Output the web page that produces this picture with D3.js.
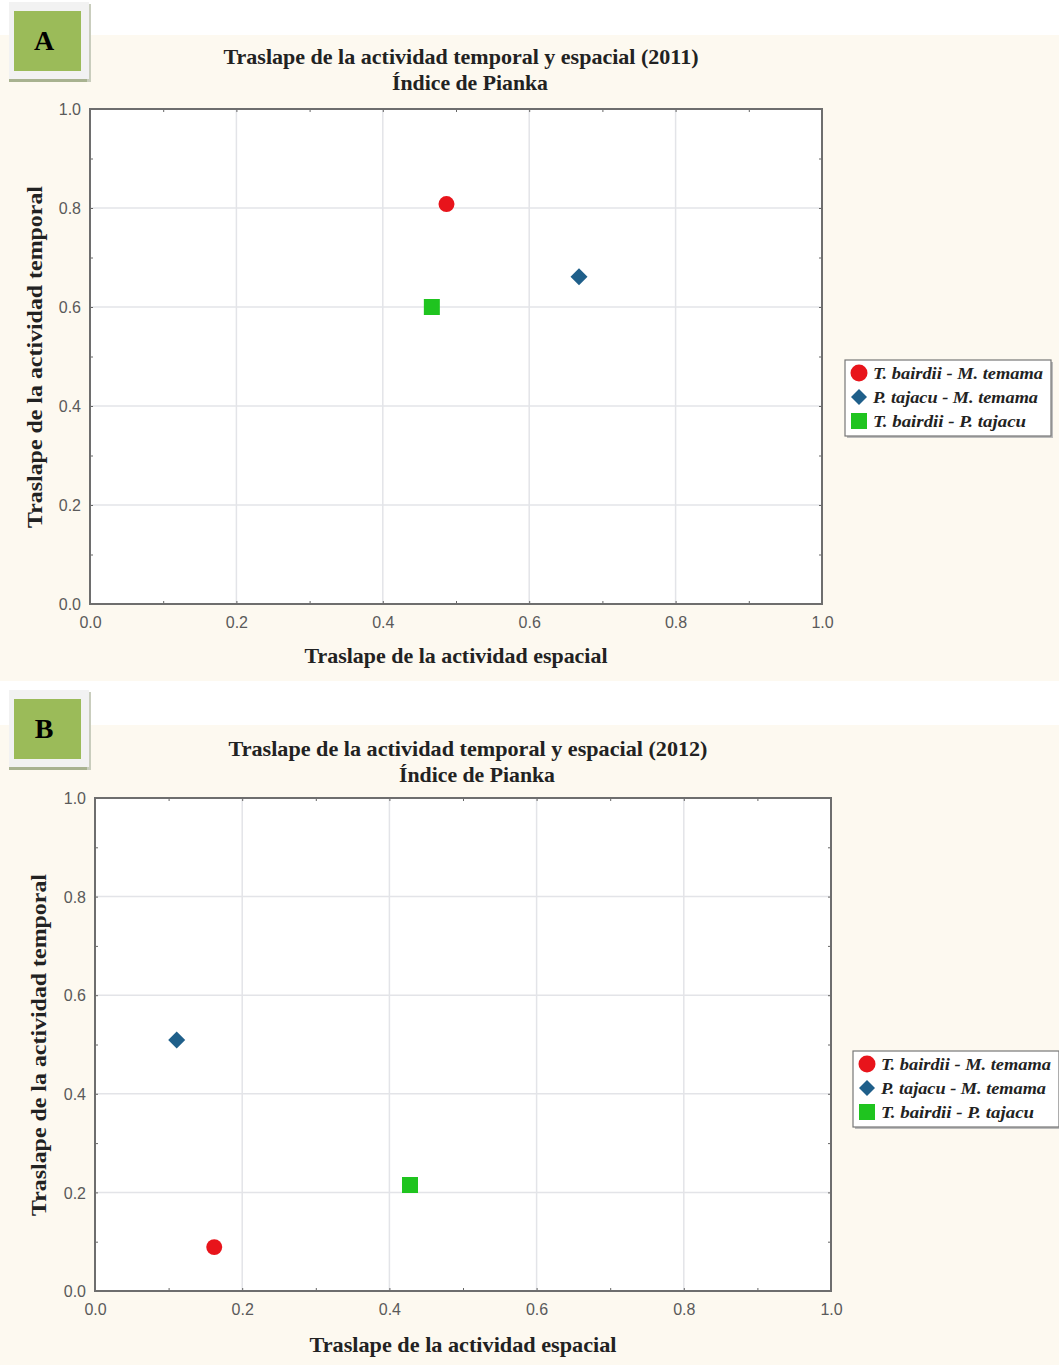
<!DOCTYPE html>
<html>
<head>
<meta charset="utf-8">
<script src="https://cdn.jsdelivr.net/npm/d3@7"></script>
<style>
body { margin:0; background:#fff; }
</style>
</head>
<body>
<script>
// datos: índice de Pianka por par de especies
var pairs = ["T. bairdii - M. temama", "P. tajacu - M. temama", "T. bairdii - P. tajacu"];
var shapes = ["circle", "diamond", "square"];
var colors = ["#e8141b", "#1f5f8a", "#1fc41f"];
var espacial2011 = [0.487, 0.668, 0.467];
var temporal2011 = [0.808, 0.661, 0.600];
var espacial2012 = [0.162, 0.111, 0.428];
var temporal2012 = [0.089, 0.509, 0.215];
var tickValues = [0, 0.2, 0.4, 0.6, 0.8, 1.0];
var legendWidths = [170, 165, 153];

var width = 1059, height = 1365;
var svg = d3.select("body").append("svg")
    .attr("width", width)
    .attr("height", height);

function marker(shape, s) {
    if (shape === "circle") return { d: d3.symbol().type(d3.symbolCircle).size(s * s * 0.785)(), rot: 0 };
    if (shape === "diamond") return { d: d3.symbol().type(d3.symbolSquare).size(s * s * 0.5)(), rot: 45 };
    return { d: d3.symbol().type(d3.symbolSquare).size(s * s)(), rot: 0 };
}
var markerSize = { circle: 16, diamond: 17, square: 16 };
var legendSize = { circle: 17, diamond: 16, square: 16 };

function panel(opts) {
    var g = svg.append("g");

    // fondo crema
    g.append("rect")
        .attr("x", 0).attr("y", opts.bgTop)
        .attr("width", width).attr("height", opts.bgBottom - opts.bgTop)
        .attr("fill", "#fdf9f0");

    // etiqueta A / B
    var lab = g.append("g").attr("transform", "translate(9," + opts.labTop + ")");
    lab.append("rect").attr("x", 0).attr("y", 76).attr("width", 82).attr("height", 4).attr("fill", "#a8b290");
    lab.append("rect").attr("x", 78).attr("y", 2).attr("width", 4).attr("height", 78).attr("fill", "#c9cdbd");
    lab.append("rect").attr("x", 0).attr("y", 0).attr("width", 80).attr("height", 77).attr("fill", "#f2f2f2");
    lab.append("rect").attr("x", 5).attr("y", 9).attr("width", 67).attr("height", 60).attr("fill", "#9bbb59");
    lab.append("text").attr("x", 35).attr("y", 48)
        .attr("text-anchor", "middle")
        .style("font-family", "Liberation Serif")
        .style("font-weight", "bold")
        .style("font-size", "28px")
        .text(opts.letter);

    var x = d3.scaleLinear().domain([0, 1]).range([opts.left, opts.right]);
    var y = d3.scaleLinear().domain([0, 1]).range([opts.bottom, opts.top]);

    g.append("rect")
        .attr("x", opts.left).attr("y", opts.top)
        .attr("width", opts.right - opts.left).attr("height", opts.bottom - opts.top)
        .attr("fill", "#fff");

    // rejilla
    g.selectAll(".gx").data(tickValues.slice(1, -1)).enter().append("line")
        .attr("x1", function(d){ return x(d); }).attr("x2", function(d){ return x(d); })
        .attr("y1", opts.top).attr("y2", opts.bottom)
        .style("stroke", "#e3e4e8").style("stroke-width", 1.5);
    g.selectAll(".gy").data(tickValues.slice(1, -1)).enter().append("line")
        .attr("y1", function(d){ return y(d); }).attr("y2", function(d){ return y(d); })
        .attr("x1", opts.left).attr("x2", opts.right)
        .style("stroke", "#e3e4e8").style("stroke-width", 1.5);

    // ejes
    var tickFmt = d3.format(".1f");
    var labelIf = function(d){ return tickValues.some(function(t){ return Math.abs(t - d) < 1e-6; }) ? tickFmt(d) : ""; };
    var xAxis = g.append("g").attr("transform", "translate(0," + opts.bottom + ")")
        .call(d3.axisBottom(x).tickValues(d3.range(0, 1.01, 0.1)).tickSize(-3).tickPadding(17).tickFormat(labelIf));
    var yAxis = g.append("g").attr("transform", "translate(" + opts.left + ",0)")
        .call(d3.axisLeft(y).tickValues(d3.range(0, 1.01, 0.1)).tickSize(-3).tickPadding(9).tickFormat(labelIf));
    g.append("g").attr("transform", "translate(0," + opts.top + ")")
        .call(d3.axisTop(x).tickValues(d3.range(0.1, 1, 0.1)).tickSize(-3).tickFormat(""));
    g.append("g").attr("transform", "translate(" + opts.right + ",0)")
        .call(d3.axisRight(y).tickValues(d3.range(0.1, 1, 0.1)).tickSize(-3).tickFormat(""));
    g.selectAll(".domain").remove();
    g.selectAll(".tick line").style("stroke", "#666");
    [xAxis, yAxis].forEach(function(a){
        a.selectAll("text")
            .style("font-family", "Liberation Sans")
            .style("font-size", "16px")
            .style("fill", "#5a5a5a");
    });
    yAxis.selectAll("text").attr("dy", "0.35em");
    xAxis.selectAll("text").attr("dy", "0.45em");

    g.append("rect")
        .attr("x", opts.left).attr("y", opts.top)
        .attr("width", opts.right - opts.left).attr("height", opts.bottom - opts.top)
        .attr("fill", "none").style("stroke", "#6e6e6e").style("stroke-width", 2);

    // títulos
    var serif = function(sel, len){
        return sel.style("font-family", "Liberation Serif").style("font-weight", "bold")
            .style("font-size", "21px").style("fill", "#222").attr("text-anchor", "middle")
            .attr("textLength", len).attr("lengthAdjust", "spacingAndGlyphs");
    };
    serif(g.append("text").attr("x", opts.titleX).attr("y", opts.titleY), opts.titleLen).text(opts.title);
    serif(g.append("text").attr("x", opts.titleX + 9).attr("y", opts.titleY + 26), 156).text("Índice de Pianka");
    serif(g.append("text").attr("x", opts.xTitleX).attr("y", opts.xTitleY), opts.xTitleLen).text("Traslape de la actividad espacial");
    serif(g.append("text")
        .attr("transform", "translate(" + opts.yTitleX + "," + opts.yTitleY + ") rotate(-90)"), 342)
        .text("Traslape de la actividad temporal");

    // puntos
    g.selectAll(".pt").data(pairs).enter().append("path")
        .attr("transform", function(d, i){
            return "translate(" + x(opts.xs[i]) + "," + y(opts.ys[i]) + ") rotate(" + marker(shapes[i], markerSize[shapes[i]]).rot + ")";
        })
        .attr("d", function(d, i){ return marker(shapes[i], markerSize[shapes[i]]).d; })
        .attr("fill", function(d, i){ return colors[i]; });

    // leyenda
    var lg = g.append("g").attr("transform", "translate(" + opts.legX + "," + opts.legY + ")");
    lg.append("rect").attr("x", 2).attr("y", 2).attr("width", 206).attr("height", 76).attr("fill", "#bbb");
    lg.append("rect").attr("x", 0).attr("y", 0).attr("width", 206).attr("height", 76)
        .attr("fill", "#fff").style("stroke", "#777").style("stroke-width", 1.2);
    var items = lg.selectAll(".it").data(pairs).enter().append("g")
        .attr("transform", function(d, i){ return "translate(14," + (13 + i * 24) + ")"; });
    items.append("path")
        .attr("transform", function(d, i){ return "rotate(" + marker(shapes[i], legendSize[shapes[i]]).rot + ")"; })
        .attr("d", function(d, i){ return marker(shapes[i], legendSize[shapes[i]]).d; })
        .attr("fill", function(d, i){ return colors[i]; });
    items.append("text").attr("x", 14).attr("y", 6)
        .style("font-family", "Liberation Serif").style("font-style", "italic").style("font-weight", "bold")
        .style("font-size", "17px").style("fill", "#222")
        .attr("textLength", function(d, i){ return legendWidths[i]; })
        .attr("lengthAdjust", "spacingAndGlyphs")
        .text(function(d){ return d; });
}

panel({
    letter: "A", labTop: 2, bgTop: 35, bgBottom: 681,
    left: 90, right: 822, top: 109, bottom: 604,
    title: "Traslape de la actividad temporal y espacial (2011)", titleLen: 475, titleX: 461, titleY: 64,
    xTitleX: 456, xTitleY: 663, xTitleLen: 303, yTitleX: 42, yTitleY: 357,
    xs: espacial2011, ys: temporal2011,
    legX: 845, legY: 360
});

panel({
    letter: "B", labTop: 690, bgTop: 725, bgBottom: 1365,
    left: 95, right: 831, top: 798, bottom: 1291,
    title: "Traslape de la actividad temporal y espacial (2012)", titleLen: 479, titleX: 468, titleY: 756,
    xTitleX: 463, xTitleY: 1352, xTitleLen: 307, yTitleX: 46, yTitleY: 1045,
    xs: espacial2012, ys: temporal2012,
    legX: 853, legY: 1051
});
</script>
</body>
</html>
